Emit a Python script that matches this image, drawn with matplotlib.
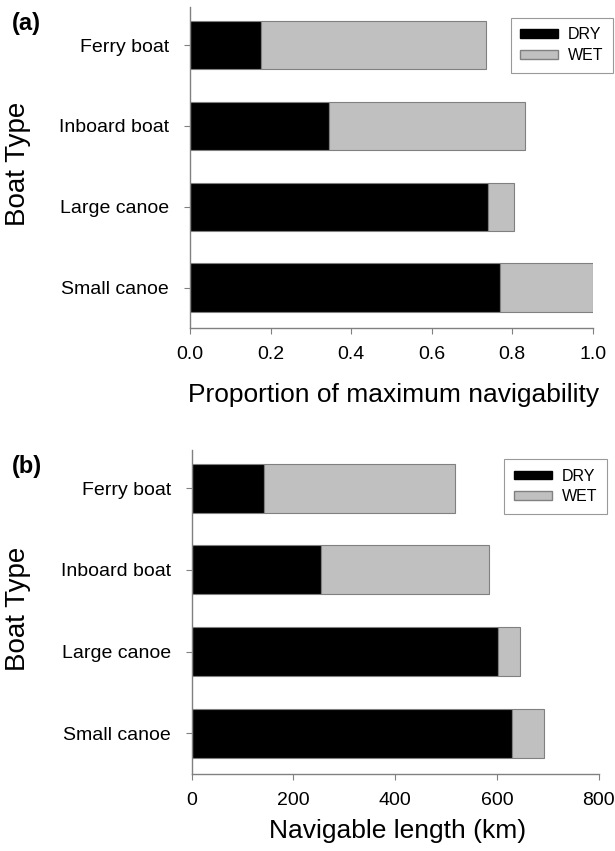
import matplotlib.pyplot as plt
from matplotlib.patches import Patch

plt.rcParams['font.family'] = ['Liberation Sans', 'DejaVu Sans']

boats = ['Ferry boat', 'Inboard boat', 'Large canoe', 'Small canoe']

# (a) proportion of maximum navigability
prop_dry = [0.176, 0.346, 0.740, 0.770]
prop_wet = [0.558, 0.486, 0.065, 0.230]

# (b) navigable length in km
km_dry = [142, 255, 602, 630]
km_wet = [375, 329, 44, 62]

dry_col = 'black'
wet_col = '#c0c0c0'
edge_col = '#808080'

fig = plt.figure(figsize=(6.15, 8.51), dpi=100)
ax1 = fig.add_axes([0.309, 0.6146, 0.655, 0.377])
ax2 = fig.add_axes([0.3117, 0.0905, 0.662, 0.3807])


def draw(ax, dry, wet, xmax, xticks, xticklabels, xlabel, tag, leg_box, xlab_y):
    y = list(range(len(boats)))
    ax.barh(y, dry, height=0.6, color=dry_col, edgecolor=edge_col, linewidth=0.8)
    ax.barh(y, wet, left=dry, height=0.6, color=wet_col, edgecolor=edge_col, linewidth=0.8)
    ax.set_ylim(3.5, -0.47)
    ax.set_xlim(0, xmax)
    ax.set_yticks(y)
    ax.set_yticklabels(boats, fontsize=14)
    ax.set_xticks(xticks)
    ax.set_xticklabels(xticklabels, fontsize=14)
    for s in ['top', 'right']:
        ax.spines[s].set_visible(False)
    for s in ['left', 'bottom']:
        ax.spines[s].set_color(edge_col)
        ax.spines[s].set_linewidth(1.0)
    ax.tick_params(axis='y', length=4, color=edge_col, pad=11)
    ax.tick_params(axis='x', length=4, color=edge_col, pad=9)
    ax.set_xlabel(xlabel, fontsize=19)
    ax.xaxis.set_label_coords(0.505, xlab_y)
    ax.set_ylabel('Boat Type', fontsize=20)
    ax.yaxis.set_label_coords(-0.395, 0.51)
    ax.text(-0.442, 0.985, tag, transform=ax.transAxes, fontsize=17,
            fontweight='bold', ha='left', va='top')
    handles = [Patch(facecolor=dry_col, edgecolor=dry_col, label='DRY'),
               Patch(facecolor=wet_col, edgecolor=edge_col, label='WET')]
    leg = fig.legend(handles=handles, loc='upper right', bbox_to_anchor=leg_box,
                     fontsize=11.5, frameon=True, fancybox=False, handlelength=2.4,
                     handleheight=0.45, handletextpad=0.6, labelspacing=0.35,
                     borderpad=0.6, borderaxespad=0)
    leg.get_frame().set_edgecolor(edge_col)
    leg.get_frame().set_linewidth(0.8)


draw(ax1, prop_dry, prop_wet, 1.0, [0, 0.2, 0.4, 0.6, 0.8, 1.0],
     ['0.0', '0.2', '0.4', '0.6', '0.8', '1.0'],
     'Proportion of maximum navigability', '(a)', (0.997, 0.979), -0.172)
draw(ax2, km_dry, km_wet, 800, [0, 200, 400, 600, 800],
     ['0', '200', '400', '600', '800'],
     'Navigable length (km)', '(b)', (0.987, 0.4606), -0.14)

plt.savefig('out.png', dpi=100)
